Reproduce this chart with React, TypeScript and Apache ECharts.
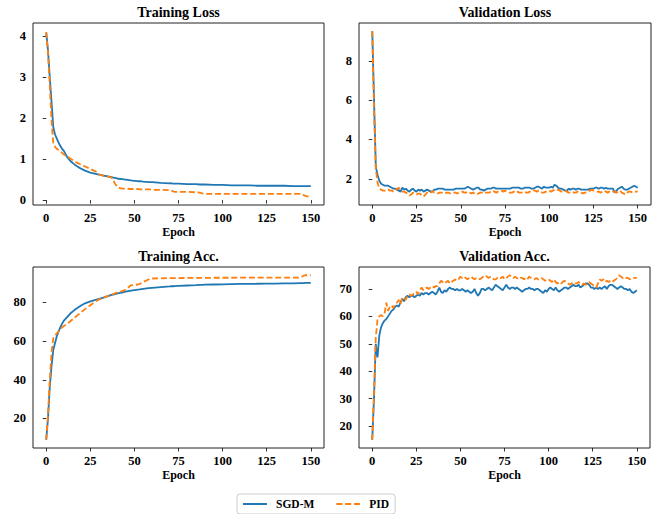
import React, { useEffect, useRef } from "react";
import * as echarts from "echarts";

const trainEpochs = [0,1,2,3,4,5,6,7,8,9,10,12,14,16,18,20,22,25,28,30,32,35,37,38,39,40,41,43,45,48,50,52,53,55,58,60,65,70,71,72,73,75,80,85,87,88,89,90,95,100,105,110,115,120,125,130,135,140,144,145,146,147,148,150];

const trainLossSGD = [4.08,3.65,3.0,2.4,1.78,1.6,1.5,1.4,1.32,1.25,1.2,1.04,0.94,0.87,0.81,0.76,0.72,0.67,0.64,0.62,0.6,0.58,0.56,0.55,0.54,0.53,0.52,0.51,0.5,0.48,0.47,0.46,0.46,0.45,0.44,0.44,0.42,0.41,0.41,0.40,0.40,0.40,0.39,0.39,0.38,0.38,0.38,0.38,0.37,0.37,0.36,0.36,0.36,0.35,0.35,0.35,0.35,0.34,0.34,0.34,0.34,0.34,0.34,0.34];
const trainLossPID = [4.1,3.6,2.8,1.95,1.38,1.3,1.25,1.22,1.19,1.15,1.11,1.06,1.0,0.95,0.9,0.86,0.82,0.76,0.7,0.62,0.6,0.57,0.55,0.48,0.4,0.34,0.3,0.28,0.28,0.27,0.27,0.27,0.26,0.26,0.26,0.25,0.25,0.24,0.23,0.21,0.2,0.2,0.2,0.19,0.18,0.17,0.16,0.15,0.15,0.15,0.15,0.15,0.15,0.15,0.15,0.15,0.15,0.15,0.15,0.14,0.12,0.1,0.09,0.08];

const trainAccSGD = [9,20,36,47,55.5,59,62.5,65,67,69,70.5,72.5,74.5,76,77.3,78.5,79.5,80.5,81.3,81.8,82.3,83.2,83.8,84,84.2,84.5,84.7,85,85.5,86,86.3,86.6,86.7,87,87.3,87.5,87.9,88.2,88.3,88.3,88.4,88.5,88.7,88.9,89,89,89,89.1,89.2,89.3,89.4,89.5,89.5,89.6,89.7,89.7,89.8,89.8,89.9,89.9,89.9,90,90,90];
const trainAccPID = [9,22,40,54,61.5,63,64,65,66,67,67.8,69,70.5,72,73.5,75,76.5,78.5,80.5,81.5,82.3,83.3,84,84.3,84.6,85,85.3,85.8,86.5,88.8,89,89.2,89.5,90.5,91.8,92.3,92.4,92.5,92.5,92.5,92.5,92.5,92.6,92.6,92.6,92.6,92.6,92.6,92.7,92.7,92.7,92.8,92.8,92.8,92.8,92.8,92.8,92.8,92.8,93.2,93.8,94,94,94];

const valEpochs = Array.from({ length: 151 }, (_, i) => i);

const valLossSGD = [9.5,6.0,2.6,2.2,1.9,1.75,1.7,1.65,1.65,1.65,1.6,1.55,1.5,1.5,1.45,1.4,1.35,1.55,1.45,1.5,1.4,1.35,1.45,1.5,1.4,1.35,1.45,1.4,1.45,1.35,1.4,1.45,1.4,1.35,1.35,1.45,1.45,1.5,1.5,1.5,1.5,1.45,1.45,1.45,1.45,1.45,1.45,1.5,1.5,1.5,1.5,1.5,1.5,1.55,1.6,1.55,1.5,1.45,1.5,1.55,1.55,1.45,1.45,1.4,1.45,1.5,1.5,1.5,1.55,1.55,1.5,1.5,1.5,1.5,1.5,1.5,1.5,1.5,1.5,1.55,1.55,1.55,1.55,1.55,1.5,1.5,1.55,1.55,1.55,1.55,1.5,1.5,1.55,1.6,1.6,1.55,1.5,1.6,1.55,1.55,1.55,1.6,1.55,1.7,1.65,1.55,1.5,1.5,1.45,1.4,1.4,1.5,1.45,1.5,1.5,1.45,1.5,1.5,1.45,1.45,1.45,1.45,1.45,1.5,1.5,1.5,1.55,1.55,1.5,1.55,1.55,1.5,1.55,1.5,1.5,1.5,1.5,1.3,1.4,1.5,1.55,1.6,1.5,1.45,1.45,1.5,1.55,1.6,1.65,1.6,1.55];
const valLossPID = [9.5,5.5,2.5,1.8,1.5,1.45,1.4,1.4,1.4,1.45,1.4,1.4,1.35,1.4,1.5,1.55,1.4,1.35,1.35,1.3,1.25,1.15,1.2,1.3,1.25,1.2,1.25,1.25,1.15,1.1,1.2,1.3,1.25,1.3,1.4,1.3,1.3,1.25,1.3,1.3,1.3,1.25,1.3,1.3,1.25,1.3,1.3,1.3,1.25,1.3,1.3,1.35,1.3,1.3,1.35,1.3,1.25,1.3,1.25,1.2,1.25,1.3,1.3,1.35,1.3,1.3,1.3,1.35,1.4,1.35,1.3,1.35,1.35,1.4,1.35,1.4,1.35,1.3,1.3,1.3,1.35,1.4,1.35,1.3,1.3,1.3,1.35,1.3,1.3,1.35,1.35,1.4,1.4,1.35,1.4,1.35,1.3,1.3,1.35,1.35,1.4,1.35,1.4,1.45,1.4,1.45,1.4,1.35,1.35,1.4,1.35,1.3,1.3,1.35,1.3,1.3,1.35,1.35,1.3,1.25,1.3,1.3,1.35,1.4,1.45,1.4,1.4,1.35,1.35,1.3,1.35,1.4,1.35,1.3,1.35,1.3,1.35,1.35,1.3,1.35,1.4,1.3,1.25,1.2,1.3,1.35,1.35,1.3,1.35,1.35,1.35];

const valAccSGD = [15,30,50,45,53,56,57.5,58.5,59,60,61,62,62.5,63.5,64,63.5,65,66.5,65.5,67,67.5,67,67.5,67.5,67,67.5,68,67.5,68.5,68,68.5,68.5,68,68.5,69,68.5,68,69,70.5,69,68.5,69.5,69,70,70.5,70,70,69.5,70,69.5,69.5,70,69.5,69,69.5,69,68.5,69,70,68.5,67.5,68.5,70,70,69.5,70,70.5,70,69.5,70.5,71.5,71,70.5,70,69.5,70.5,71.5,70.5,70,70.5,70.5,70,70.5,70,69.5,69,69.5,70,70,70.5,70,70,69.5,70,70,69.5,69,68.5,69.5,69,70,70.5,70,69.5,70.5,69.5,69,69.5,70,70.5,70.5,70,70.5,71,71.5,71,71,71.5,70.5,71,71.5,72,72,71.5,70.5,70.5,70,70.5,70,70.5,70,70.5,71,70,71,71.5,71.5,71,70.5,70,70.5,71,70.5,70,70,69.5,70,69,68.5,69,69.5];
const valAccPID = [15,32,52,59,60,60.5,60,61,65,62,63.5,64,63,64.5,65,66,64.5,66.5,67,66,67.5,68,67.5,68,68.5,69,68,69.5,70.5,69.5,70,70.5,70,70.5,71,70.5,71,71,72,73,72.5,72,72.5,73,72,72.5,73,73.5,73,73.5,74.5,74,74.5,74,73.5,74,74.5,74,73.5,74,74,73.5,74,74.5,75,74.5,74,74.5,74,73.5,73.5,74,73.5,74,74.5,73.5,74,74.5,75,74.5,74,74.5,74,73.5,74,74,73.5,74,73.5,74.5,74,73.5,73.5,74,73.5,73.5,74,73.5,73,73.5,73.5,73,72.5,73.5,72.5,72,72.5,72,72.5,73,72.5,72,71.5,72,72.5,72,72,72.5,72,71.5,72,71.5,72,72.5,72,71.5,71,70.5,72,73.5,73,73.5,72.5,73,72.5,73,72.5,73,73.5,74,75,74.5,74,74.5,74,74,73.5,74,74,74,74];

const xTicks = [0, 25, 50, 75, 100, 125, 150];
const yTicksTrainLoss = [0, 1, 2, 3, 4];
const yTicksValLoss = [2, 4, 6, 8];
const yTicksTrainAcc = [20, 40, 60, 80];
const yTicksValAcc = [20, 30, 40, 50, 60, 70];
const titles = ["Training Loss", "Validation Loss", "Training Acc.", "Validation Acc."];
const seriesNames = ["SGD-M", "PID"];

const FONT = "'Liberation Serif', 'Times New Roman', serif";
const BLUE = "#1f77b4";
const ORANGE = "#ff7f0e";

function pairs(xs: number[], ys: number[]) {
  return xs.map((x, i) => [x, ys[i]]);
}

export default function App() {
  const ref = useRef<HTMLDivElement>(null);
  useEffect(() => {
    if (!ref.current) return;
    const chart = echarts.init(ref.current, null, { renderer: "svg" });

    const grids = [
      { left: 33, top: 23, width: 291, height: 182 },
      { left: 359, top: 23, width: 292, height: 182 },
      { left: 33, top: 267, width: 291, height: 181 },
      { left: 359, top: 267, width: 291, height: 181 },
    ];
    const yRanges = [
      { min: -0.12, max: 4.32, ticks: yTicksTrainLoss },
      { min: 0.67, max: 9.92, ticks: yTicksValLoss },
      { min: 4.75, max: 98.25, ticks: yTicksTrainAcc },
      { min: 12, max: 78, ticks: yTicksValAcc },
    ];
    const labelStyle = { fontFamily: FONT, fontWeight: "bold" as const, fontSize: 12.5, color: "#000" };
    const tick = { show: true, inside: false, length: 3.5, lineStyle: { color: "#000", width: 0.8 } };

    const xAxis = grids.map((_, i) => ({
      type: "value",
      gridIndex: i,
      min: -7.5,
      max: 157.5,
      name: "Epoch",
      nameLocation: "middle",
      nameGap: 21,
      nameTextStyle: { fontFamily: FONT, fontWeight: "bold", fontSize: 12, color: "#000" },
      axisLine: { show: false },
      splitLine: { show: false },
      axisTick: { ...tick, customValues: xTicks },
      axisLabel: { ...labelStyle, margin: 6, customValues: xTicks, formatter: (v: number) => String(v) },
    }));
    const yAxis = yRanges.map((r, i) => ({
      type: "value",
      gridIndex: i,
      min: r.min,
      max: r.max,
      axisLine: { show: false },
      splitLine: { show: false },
      axisTick: { ...tick, customValues: r.ticks },
      axisLabel: { ...labelStyle, margin: 7, customValues: r.ticks, formatter: (v: number) => String(v) },
    }));

    const data = [
      [pairs(trainEpochs, trainLossSGD), pairs(trainEpochs, trainLossPID)],
      [pairs(valEpochs, valLossSGD), pairs(valEpochs, valLossPID)],
      [pairs(trainEpochs, trainAccSGD), pairs(trainEpochs, trainAccPID)],
      [pairs(valEpochs, valAccSGD), pairs(valEpochs, valAccPID)],
    ];
    const series: any[] = [];
    data.forEach((d, i) => {
      series.push({
        name: seriesNames[0],
        type: "line",
        xAxisIndex: i,
        yAxisIndex: i,
        data: d[0],
        symbol: "none",
        lineStyle: { color: BLUE, width: 1.8 },
        itemStyle: { color: BLUE },
      });
      series.push({
        name: seriesNames[1],
        type: "line",
        xAxisIndex: i,
        yAxisIndex: i,
        data: d[1],
        symbol: "none",
        lineStyle: { color: ORANGE, width: 1.8, type: [6, 2.8] },
        itemStyle: { color: ORANGE },
      });
    });

    const title = grids.map((g, i) => ({
      text: titles[i],
      left: g.left + g.width / 2,
      top: i < 2 ? 5 : 249,
      padding: 0,
      textAlign: "center",
      textStyle: { fontFamily: FONT, fontWeight: "bold", fontSize: 14, color: "#000" },
    }));

    chart.setOption({
      animation: false,
      backgroundColor: "#fff",
      title,
      grid: grids.map((g) => ({ ...g, show: true, borderColor: "#222", borderWidth: 1, backgroundColor: "transparent" })),
      xAxis,
      yAxis,
      series,
      legend: {
        data: seriesNames,
        left: 237,
        top: 494,
        orient: "horizontal",
        padding: [4, 6, 4, 5],
        itemWidth: 24,
        itemHeight: 10,
        itemGap: 21,
        borderColor: "#ccc",
        borderWidth: 1,
        borderRadius: 3,
        itemStyle: { opacity: 0, borderWidth: 0 },
        textStyle: { fontFamily: FONT, fontWeight: "bold", fontSize: 11.5, color: "#000", padding: [0, 0, 0, 4] },
      },
    });
    return () => chart.dispose();
  }, []);
  return <div ref={ref} style={{ position: "absolute", left: 0, top: 0, width: 652, height: 514 }} />;
}
